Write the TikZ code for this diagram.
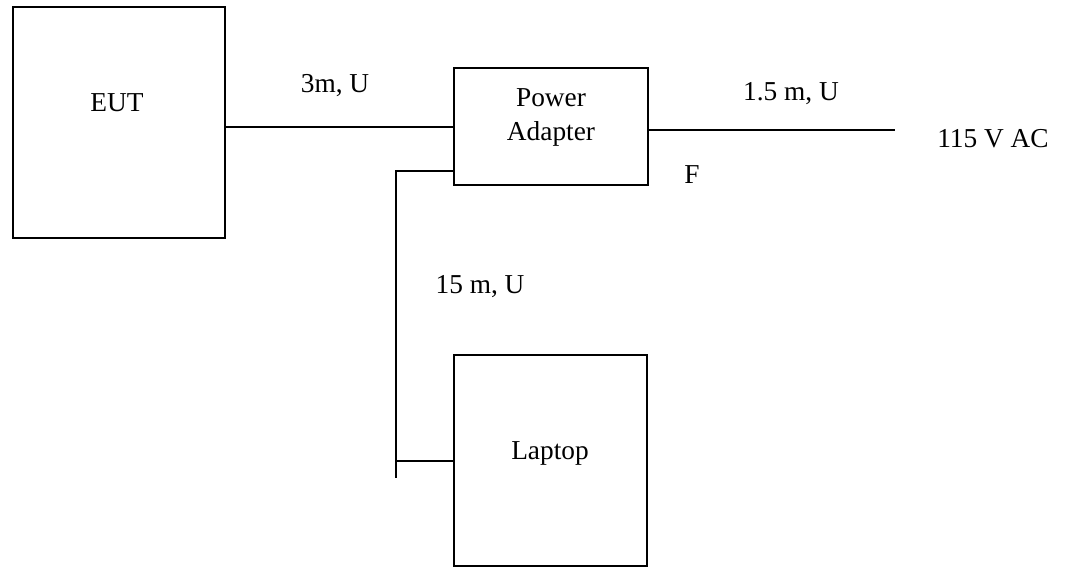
\documentclass[tikz,border=0pt]{standalone}
\usepackage{fontspec}
\setmainfont{Liberation Serif}
\usetikzlibrary{positioning,calc}

\begin{document}
\begin{tikzpicture}[x=0.75pt, y=-0.75pt, font=\fontsize{20.5}{25}\selectfont,
  unit/.style={draw, line width=1.5pt, inner sep=0pt, minimum width=#1},
  txt/.style={anchor=base, inner sep=0pt}]
\useasboundingbox (0,0) rectangle (1067,567);
\tikzset{every path/.style={line width=1.5pt}}
% boxes
\node[unit=212*0.75pt, minimum height=231*0.75pt] (eut) at (119,122.5) {};
\node[unit=194*0.75pt, minimum height=117*0.75pt] (pwr) at (551,126.5) {};
\node[unit=193*0.75pt, minimum height=211*0.75pt] (lap) at (550.5,460.5) {};
\node[txt] (eutname) at (117,112) {EUT};
\node[txt] (pwrname1) at (551,107) {Power};
\node[txt] (pwrname2) at (551,140) {Adapter};
\node[txt] (lapname) at (550,459) {Laptop};
% cables
\coordinate (acend) at (895,130);
\coordinate (tap) at (396,171);
\coordinate (stub) at (396,478);
\draw (eut.east |- pwr.west) -- (pwr.west);
\draw (pwr.east |- acend) -- (acend);
\draw (pwr.west |- tap) -- (tap) -- (stub);
\draw (stub |- lap.west) -- (lap.west);
% cable labels
\node[txt] (eutcab) at (335,93) {3m, U};
\node[txt] (accab) at (791,100) {1.5 m, U};
\node[txt] (acsrc) at (993,147) {115 V AC};
\node[txt] (ferrite) at (692,183) {F};
\node[txt] (lapcab) at (480,293) {15 m, U};
\end{tikzpicture}
\end{document}
